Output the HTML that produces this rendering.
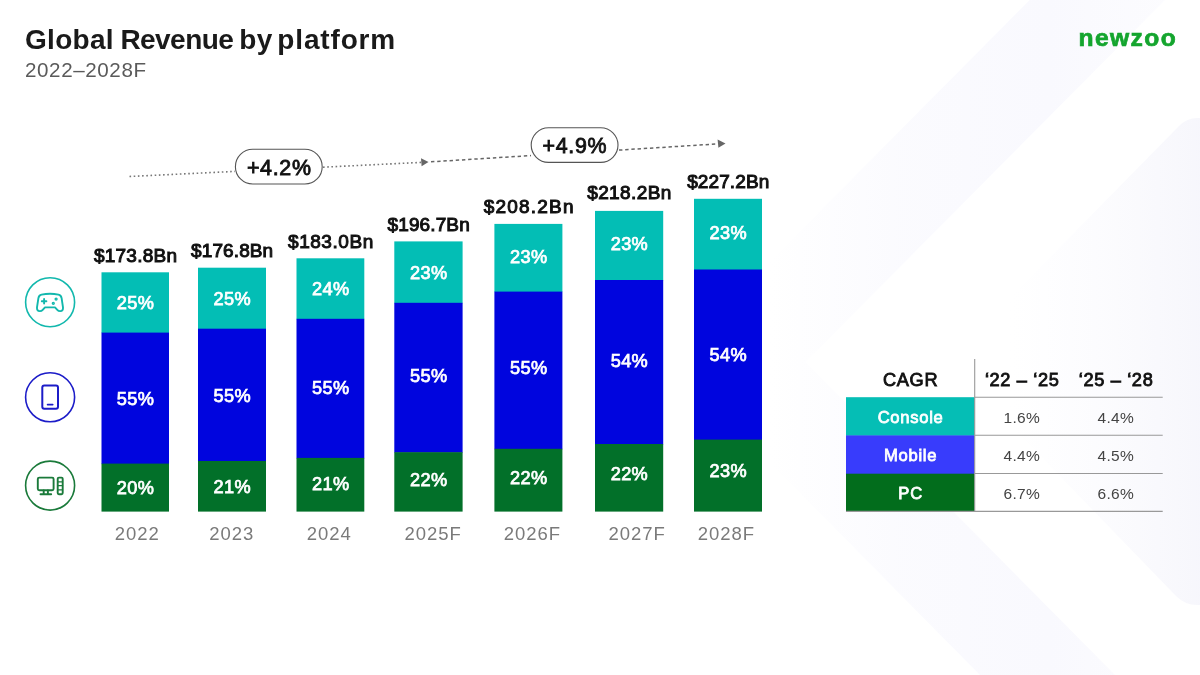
<!DOCTYPE html>
<html lang="en"><head><meta charset="utf-8"><title>Global Revenue by platform</title>
<style>
html,body{margin:0;padding:0;background:#fff;}
body{width:1200px;height:675px;overflow:hidden;position:relative;font-family:"Liberation Sans",sans-serif;}
svg{position:absolute;left:0;top:0;display:block}
text{font-family:"Liberation Sans",sans-serif;}
.tot{font-weight:400;stroke:#111;stroke-width:1.0px;font-size:19.0px;fill:#111;text-anchor:middle;letter-spacing:.25px}
.pct{font-weight:400;stroke:#fff;stroke-width:.75px;font-size:18.2px;fill:#fff;text-anchor:middle;letter-spacing:.35px}
.yr{font-size:18.5px;fill:#7a7a7a;text-anchor:middle;letter-spacing:.95px}
.pill{font-weight:400;stroke:#111;stroke-width:.85px;font-size:21.4px;fill:#111;text-anchor:middle;letter-spacing:.7px}
.th{font-weight:400;stroke:#111;stroke-width:.85px;font-size:18.2px;fill:#111;text-anchor:middle;letter-spacing:.65px}
.rl{font-weight:400;stroke:#fff;stroke-width:.8px;font-size:16.6px;fill:#fff;text-anchor:middle;letter-spacing:.7px}
.td{font-size:15.5px;fill:#444;text-anchor:middle;letter-spacing:.3px}
</style></head><body>
<svg width="1200" height="675" viewBox="0 0 1200 675">
<defs>
<linearGradient id="g1" gradientUnits="userSpaceOnUse" x1="770" y1="0" x2="1200" y2="0"><stop offset="0" stop-color="#f9f9fe" stop-opacity="0"/><stop offset="0.3" stop-color="#f9f9fe" stop-opacity="0.7"/><stop offset="0.65" stop-color="#f9f9fe" stop-opacity="1"/><stop offset="1" stop-color="#fafafe" stop-opacity="0.5"/></linearGradient>
<linearGradient id="g2" gradientUnits="userSpaceOnUse" x1="1210" y1="0" x2="1010" y2="0"><stop offset="0" stop-color="#f6f6fc"/><stop offset="0.45" stop-color="#f9f9fd" stop-opacity="0.7"/><stop offset="1" stop-color="#fbfbff" stop-opacity="0"/></linearGradient>
</defs>
<rect width="1200" height="675" fill="#ffffff"/>
<path d="M1140,-43 L738,362 L1090,718" fill="none" stroke="url(#g1)" stroke-width="96" stroke-linejoin="round"/>
<path d="M1200,118 L1197,118 Q1187,118 1179,126 L960,349 Q948,361 960,373 L1176,596 Q1185,605 1197,605 L1200,605 Z" fill="url(#g2)"/>

<text y="49.3" font-weight="700" font-size="28px" fill="#1a1a1a" id="title"><tspan x="25" letter-spacing="0.3px">Global</tspan> <tspan x="120.4" letter-spacing="-0.55px">Revenue</tspan> <tspan x="239.2" letter-spacing="0.5px">by</tspan> <tspan x="277.3" letter-spacing="0.85px">platform</tspan></text>
<text x="25" y="76.9" font-size="20.6px" fill="#5a5a5a" letter-spacing="0.6px" id="sub">2022–2028F</text>
<text x="1078.5" y="46.1" font-weight="700" font-size="24.6px" fill="#14a52e" stroke="#14a52e" stroke-width="0.7" letter-spacing="1.4px" id="logo">newzoo</text>
<line x1="129.5" y1="176.5" x2="235" y2="171.4" stroke="#777" stroke-width="1.6" stroke-dasharray="1.6 2.6"/>
<line x1="323" y1="167.2" x2="421" y2="162.4" stroke="#777" stroke-width="1.6" stroke-dasharray="1.6 2.6"/>
<polygon points="428.5,162 421,158.3 421.6,166.2" fill="#666"/>
<line x1="431" y1="161.8" x2="531" y2="155.6" stroke="#666" stroke-width="1.5" stroke-dasharray="3.4 2.8"/>
<line x1="619" y1="150.1" x2="718" y2="143.9" stroke="#666" stroke-width="1.5" stroke-dasharray="3.4 2.8"/>
<polygon points="725.5,143.4 717.6,139.6 718.4,147.8" fill="#666"/>
<rect x="235.4" y="149.3" width="86.8" height="34.7" rx="17.35" fill="#fff" stroke="#555" stroke-width="1.1"/>
<text class="pill" x="279.3" y="174.6">+4.2%</text>
<rect x="531.2" y="127.7" width="86.8" height="34.7" rx="17.35" fill="#fff" stroke="#555" stroke-width="1.1"/>
<text class="pill" x="574.9" y="153.0">+4.9%</text>
<rect x="101.5" y="272.3" width="67.5" height="60.8" fill="#03beb5"/>
<rect x="101.5" y="332.6" width="67.5" height="131.5" fill="#0005de"/>
<rect x="101.5" y="463.6" width="67.5" height="48.0" fill="#027029"/>
<text class="tot" x="135.6" y="262.0" style="letter-spacing:0.25px">$173.8Bn</text>
<text class="pct" x="135.6" y="309.1">25%</text>
<text class="pct" x="135.6" y="404.7">55%</text>
<text class="pct" x="135.6" y="493.7">20%</text>
<text class="yr" x="137.2" y="540">2022</text>
<rect x="198.0" y="267.7" width="68.0" height="61.5" fill="#03beb5"/>
<rect x="198.0" y="328.7" width="68.0" height="132.8" fill="#0005de"/>
<rect x="198.0" y="461.0" width="68.0" height="50.6" fill="#027029"/>
<text class="tot" x="232.2" y="256.7" style="letter-spacing:0.1px">$176.8Bn</text>
<text class="pct" x="232.3" y="304.6">25%</text>
<text class="pct" x="232.3" y="401.5">55%</text>
<text class="pct" x="232.3" y="492.5">21%</text>
<text class="yr" x="231.7" y="540">2023</text>
<rect x="296.5" y="258.3" width="67.8" height="61.0" fill="#03beb5"/>
<rect x="296.5" y="318.8" width="67.8" height="139.6" fill="#0005de"/>
<rect x="296.5" y="457.9" width="67.8" height="53.7" fill="#027029"/>
<text class="tot" x="330.9" y="247.6" style="letter-spacing:0.55px">$183.0Bn</text>
<text class="pct" x="330.7" y="295.2">24%</text>
<text class="pct" x="330.7" y="393.8">55%</text>
<text class="pct" x="330.7" y="489.9">21%</text>
<text class="yr" x="329.3" y="540">2024</text>
<rect x="394.3" y="241.4" width="68.3" height="61.9" fill="#03beb5"/>
<rect x="394.3" y="302.8" width="68.3" height="149.9" fill="#0005de"/>
<rect x="394.3" y="452.2" width="68.3" height="59.4" fill="#027029"/>
<text class="tot" x="428.7" y="230.6" style="letter-spacing:0.12px">$196.7Bn</text>
<text class="pct" x="428.8" y="278.5">23%</text>
<text class="pct" x="428.8" y="382.2">55%</text>
<text class="pct" x="428.8" y="485.5">22%</text>
<text class="yr" x="433.1" y="540">2025F</text>
<rect x="494.4" y="223.9" width="68.0" height="68.2" fill="#03beb5"/>
<rect x="494.4" y="291.6" width="68.0" height="157.7" fill="#0005de"/>
<rect x="494.4" y="448.8" width="68.0" height="62.8" fill="#027029"/>
<text class="tot" x="529.2" y="212.7" style="letter-spacing:1.2px">$208.2Bn</text>
<text class="pct" x="528.7" y="263.0">23%</text>
<text class="pct" x="528.7" y="374.0">55%</text>
<text class="pct" x="528.7" y="483.5">22%</text>
<text class="yr" x="532.4" y="540">2026F</text>
<rect x="595.0" y="210.9" width="68.2" height="69.6" fill="#03beb5"/>
<rect x="595.0" y="280.0" width="68.2" height="164.5" fill="#0005de"/>
<rect x="595.0" y="444.0" width="68.2" height="67.6" fill="#027029"/>
<text class="tot" x="629.5" y="199.3" style="letter-spacing:0.42px">$218.2Bn</text>
<text class="pct" x="629.4" y="250.2">23%</text>
<text class="pct" x="629.4" y="367.2">54%</text>
<text class="pct" x="629.4" y="479.5">22%</text>
<text class="yr" x="637.1" y="540">2027F</text>
<rect x="694.0" y="198.8" width="68.0" height="71.2" fill="#03beb5"/>
<rect x="694.0" y="269.5" width="68.0" height="170.6" fill="#0005de"/>
<rect x="694.0" y="439.6" width="68.0" height="72.0" fill="#027029"/>
<text class="tot" x="728.3" y="187.6" style="letter-spacing:0.12px">$227.2Bn</text>
<text class="pct" x="728.3" y="238.5">23%</text>
<text class="pct" x="728.3" y="361.0">54%</text>
<text class="pct" x="728.3" y="476.5">23%</text>
<text class="yr" x="726.4" y="540">2028F</text>
<g fill="none" stroke="#12b8ad" stroke-width="1.9" stroke-linecap="round" stroke-linejoin="round">
<circle cx="50.1" cy="302.2" r="24.5" stroke-width="1.6"/>
<path d="M41.5,294.6 Q50,292.9 58.5,294.6 Q61,295.1 61.6,298.1 L63,307.4 Q63.3,310.9 60.3,311.1 Q58.5,311.2 57.3,309.9 L55,307.4 L45,307.4 L42.7,309.9 Q41.5,311.2 39.700,311.1 Q36.7,310.9 37,307.4 L38.4,298.1 Q39,295.1 41.500,294.6 Z"/>
<path d="M41.8,301.3 L46.4,301.3 M44.1,299 L44.1,303.6"/>
<circle cx="56.1" cy="299.1" r="0.7"/><circle cx="53.3" cy="303.3" r="0.7"/>
</g>
<g fill="none" stroke="#1c1cc8" stroke-width="2" stroke-linecap="round" stroke-linejoin="round">
<circle cx="50.1" cy="397.3" r="24.5" stroke-width="1.6"/>
<rect x="42.3" y="385.4" width="15.7" height="23.4" rx="2"/>
<path d="M47.6,404.6 L52.7,404.6" stroke-width="1.7"/>
</g>
<g fill="none" stroke="#1a7a3a" stroke-width="1.9" stroke-linecap="round" stroke-linejoin="round">
<circle cx="50.1" cy="485.6" r="24.5" stroke-width="1.6"/>
<rect x="37.8" y="477.6" width="15.8" height="12.6" rx="1.5"/>
<path d="M40.5,494.2 L51.2,494.2 M43.7,490.4 L43.7,494 M47.9,490.4 L47.9,494"/>
<rect x="57.7" y="477.6" width="5" height="16.6" rx="1.2"/>
<path d="M57.9,481.8 L62.5,481.8 M57.9,485.7 L62.5,485.700 M57.9,489.8 L62.5,489.8" stroke-width="1.3"/>
</g>
<rect x="846" y="397.2" width="128.7" height="38.6" fill="#05beb5"/>
<rect x="846" y="435.4" width="128.7" height="38.6" fill="#383cfc"/>
<rect x="846" y="473.7" width="128.7" height="37.9" fill="#026d1c"/>
<g stroke="#999" stroke-width="1.1">
<line x1="974.7" y1="359" x2="974.7" y2="511.5"/>
<line x1="974.7" y1="397.2" x2="1162.7" y2="397.2"/>
<line x1="974.7" y1="435.3" x2="1162.7" y2="435.3"/>
<line x1="974.7" y1="473.5" x2="1162.7" y2="473.5"/>
<line x1="846" y1="511.4" x2="1162.7" y2="511.4"/>
</g>
<text class="th" x="910.6" y="385.7" font-size="18.3px">CAGR</text>
<text class="th" x="1022.2" y="385.8">‘22 – ‘25</text>
<text class="th" x="1116.1" y="385.8">‘25 – ‘28</text>
<text class="rl" x="910.6" y="423.0">Console</text>
<text class="td" x="1021.8" y="423.0">1.6%</text>
<text class="td" x="1115.8" y="423.0">4.4%</text>
<text class="rl" x="910.6" y="461.1">Mobile</text>
<text class="td" x="1021.8" y="461.1">4.4%</text>
<text class="td" x="1115.8" y="461.1">4.5%</text>
<text class="rl" x="910.6" y="499.1">PC</text>
<text class="td" x="1021.8" y="499.1">6.7%</text>
<text class="td" x="1115.8" y="499.1">6.6%</text>
</svg>
</body></html>
